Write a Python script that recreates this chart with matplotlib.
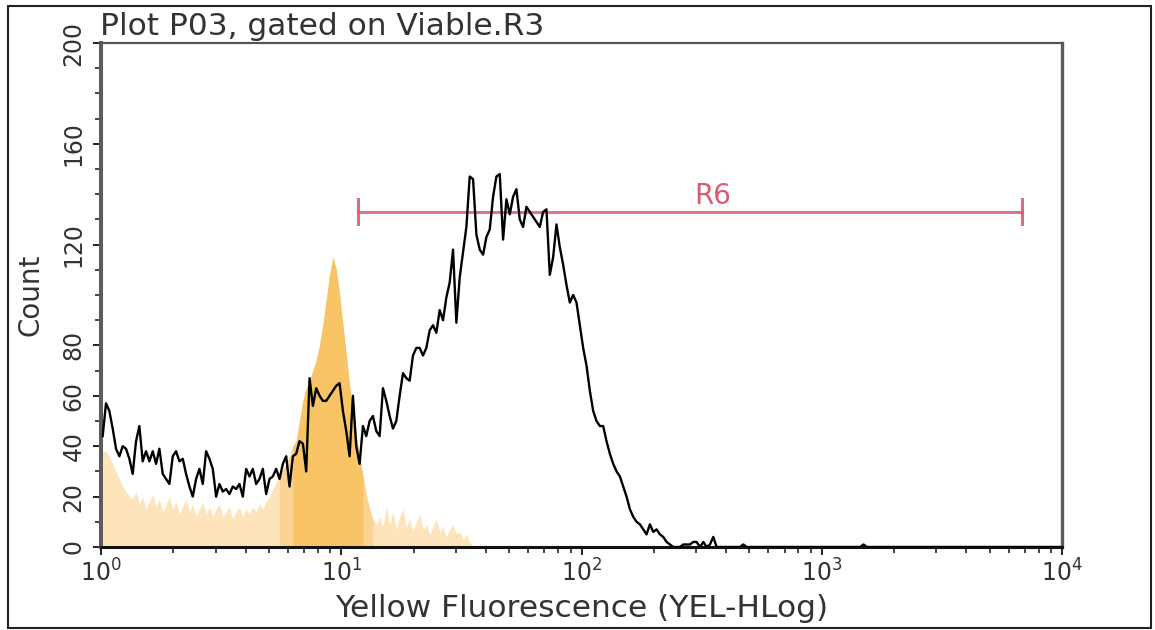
import numpy as np
import matplotlib
matplotlib.use("Agg")
import matplotlib.pyplot as plt
from matplotlib.patches import Rectangle
from matplotlib.ticker import FixedLocator, FixedFormatter, LogLocator, NullFormatter

# --------------------------
# HISTOGRAM DATA (4 log decades, 72 channels per decade)
# --------------------------
decades = 4
channels_per_decade = 72

# stained sample, channels 0..185 (black outline)
stained_counts = [
    44, 57, 54, 47, 39, 36, 40, 39, 35, 29, 42, 48, 34, 38, 34, 38, 33, 39, 29, 27,
    25, 36, 38, 34, 35, 29, 24, 20, 27, 31, 25, 38, 35, 31, 20, 25, 22, 23, 21, 24,
    23, 25, 20, 31, 28, 31, 25, 27, 31, 21, 27, 28, 31, 27, 33, 36, 24, 36, 37, 42,
    41, 30, 67, 56, 63, 60, 58, 58, 60, 62, 64, 65, 54, 46, 36, 60, 40, 33, 48, 44,
    50, 52, 46, 44, 63, 58, 52, 47, 50, 60, 69, 67, 66, 76, 79, 79, 76, 79, 86, 88,
    85, 94, 90, 99, 105, 118, 89, 107, 117, 127, 147, 146, 124, 118, 116, 123, 126, 139, 147, 148,
    122, 138, 132, 139, 142, 130, 127, 135, 133, 131, 129, 127, 133, 134, 108, 115, 128, 119, 112, 104,
    97, 100, 97, 88, 79, 72, 62, 54, 50, 48, 48, 42, 37, 33, 30, 28, 24, 20, 15, 12,
    10, 9, 7, 5, 9, 6, 7, 5, 4, 2, 1, 0, 0, 0, 1, 1, 1, 2, 2, 0,
    2, 0, 1, 4, 0, 0,
]
# isolated events further out
stained_tail_channels = [192, 228]
stained_tail_counts = [1, 1]

# unstained control, channels 0..110 (filled)
control_counts = [
    38, 38, 36, 33, 30, 27, 24, 22, 20,
    19, 22, 17, 20, 15, 18, 21, 16, 19, 14, 17, 20, 15, 18, 13, 16, 19, 14, 17, 12,
    15, 18, 13, 16, 12, 15, 17, 12, 14, 16, 11, 14, 16, 12, 15, 13, 16, 14, 17, 15,
    18, 20,
    23, 26, 29, 31, 33, 36, 40,
    42, 50, 58, 63, 66, 70, 74, 80, 88, 98, 108, 115, 110, 100, 88, 76, 64, 54, 44, 36,
    28, 21, 15, 11, 9,
    12, 8, 16, 9, 14, 7, 12, 15, 8, 11, 6, 10, 13, 7, 9, 5, 8, 11, 6, 8,
    4, 7, 9, 5, 6, 3, 5, 2,
]

# marker region R6
gate_label = "R6"
gate_lo, gate_hi = 11.7, 6820
gate_level = 133
gate_label_x = 350

title_text = "Plot P03, gated on Viable.R3"
x_label = "Yellow Fluorescence (YEL-HLog)"
y_label = "Count"
y_major = [0, 20, 40, 60, 80, 120, 160, 200]
x_major = [1, 10, 100, 1000, 10000]
x_major_labels = [r"$10^{0}$", r"$10^{1}$", r"$10^{2}$", r"$10^{3}$", r"$10^{4}$"]

# --------------------------
# BUILD CHANNEL ARRAYS
# --------------------------
n_ch = decades * channels_per_decade
stained = np.zeros(n_ch)
stained[:len(stained_counts)] = stained_counts
stained[stained_tail_channels] = stained_tail_counts
control = np.zeros(n_ch)
control[:len(control_counts)] = control_counts
ch = np.arange(n_ch)
xc = 10 ** ((ch + 0.5) / channels_per_decade)

# --------------------------
# FIGURE
# --------------------------
W, H = 1155, 630
fig = plt.figure(figsize=(W / 100, H / 100), dpi=100)
ax = fig.add_axes([101 / W, 1 - 547 / H, (1062 - 101) / W, (547 - 43) / H])
ax.set_xscale("log")
ax.set_xlim(1, 1e4)
ax.set_ylim(0, 200)

# control histogram: pale body, stronger colour through its peak
ax.fill_between(xc, control, color="#FDE4BA", lw=0, zorder=1)
mid = (ch >= 53) & (ch <= 81)
ax.fill_between(xc[mid], control[mid], color="#FBD493", lw=0, zorder=1.1)
core = (ch >= 57) & (ch <= 78)
ax.fill_between(xc[core], control[core], color="#F9C465", lw=0, zorder=1.2)

# gate marker
gate_col = "#DB5A72"
ax.plot([gate_lo, gate_hi], [gate_level, gate_level], color=gate_col, lw=2.2, alpha=0.85, zorder=2)
for gx in (gate_lo, gate_hi):
    ax.plot([gx, gx], [gate_level - 5, gate_level + 5], color=gate_col, lw=2.2, alpha=0.9, zorder=2)
ax.text(gate_label_x, gate_level + 0.8, gate_label, color=gate_col,
        fontsize=20, ha="center", va="bottom", zorder=2)

# stained histogram outline
ax.plot(xc, stained, color="black", lw=1.7, zorder=3)

# --------------------------
# AXES STYLE
# --------------------------
for side, lw, col in (("left", 2.9, "#5c5c5c"), ("bottom", 2.2, "#111111"),
                      ("top", 1.6, "#555555"), ("right", 2.4, "#5c5c5c")):
    ax.spines[side].set_linewidth(lw)
    ax.spines[side].set_color(col)

ax.xaxis.set_major_locator(FixedLocator(x_major))
ax.xaxis.set_major_formatter(FixedFormatter(x_major_labels))
ax.xaxis.set_minor_locator(LogLocator(base=10, subs=np.arange(2, 10)))
ax.xaxis.set_minor_formatter(NullFormatter())
ax.yaxis.set_major_locator(FixedLocator(y_major))
ax.yaxis.set_minor_locator(FixedLocator(np.arange(0, 201, 10)))

ax.tick_params(which="major", direction="out", length=6, width=1.4, colors="#222222",
               labelsize=17, labelcolor="#333333")
ax.tick_params(which="minor", direction="out", length=4, width=1.2, colors="#222222")
ax.tick_params(axis="x", which="major", pad=3)
ax.tick_params(axis="y", which="major", labelrotation=90, pad=5)
for lab in ax.get_yticklabels():
    lab.set_va("center")

ax.set_xlabel(x_label, fontsize=22.5, color="#333333")
ax.xaxis.set_label_coords(0.5, -0.094)
ax.set_ylabel(y_label, fontsize=20, color="#333333")
ax.yaxis.label.set_va("center")
ax.yaxis.set_label_coords((31 - 101) / (1062 - 101), 0.5)

fig.text(100 / W, 1 - 35 / H, title_text, fontsize=22.5, color="#333333", ha="left", va="baseline")

# outer frame
fig.add_artist(Rectangle((8 / W, 2 / H), (1151 - 8) / W, (628 - 6) / H, transform=fig.transFigure,
                         fill=False, edgecolor="#222222", lw=1.5))

fig.savefig("out.png", dpi=100, facecolor="white")
